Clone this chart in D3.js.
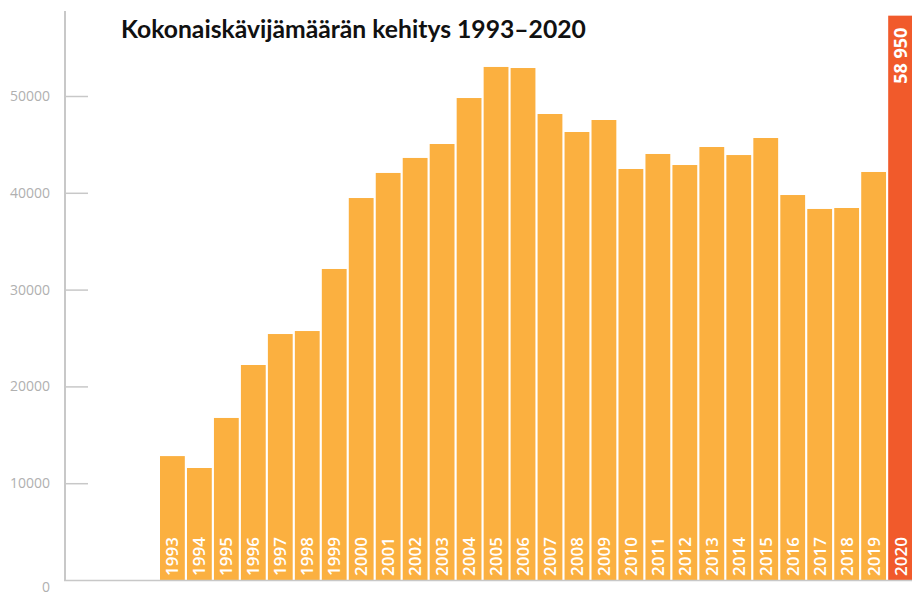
<!DOCTYPE html>
<html lang="fi">
<head>
    <meta charset="UTF-8">
    <title>Kokonaiskävijämäärän kehitys 1993–2020</title>
    <script src="https://cdn.jsdelivr.net/npm/d3@7"></script>
    <style>
        body { margin: 0; background: #fff; }
        .otsikko {
            font-family: 'Lato', sans-serif;
            font-weight: 700;
            font-size: 24.7px;
            fill: #111;
        }
        .axis text {
            font-family: 'Open Sans', sans-serif;
            font-size: 14px;
            fill: #b0b0b0;
        }
        .axis line, .axis path { stroke: #c8c8c8; }
        .vuosi {
            font-family: 'Open Sans', sans-serif;
            font-weight: 600;
            font-size: 17px;
            fill: #fff;
        }
        .arvo {
            font-family: 'Open Sans', sans-serif;
            font-weight: 700;
            font-size: 18px;
            fill: #fff;
        }
    </style>
</head>
<body>
<div id="grafico"></div>
<script>
var w = 912, h = 597;

// vuodet ja kävijämäärät (luettu kuvasta)
var vuodet = [1993, 1994, 1995, 1996, 1997, 1998, 1999, 2000, 2001, 2002,
              2003, 2004, 2005, 2006, 2007, 2008, 2009, 2010, 2011, 2012,
              2013, 2014, 2015, 2016, 2017, 2018, 2019, 2020];
var kavijat = [12800, 11570, 16740, 22210, 25410, 25720, 32130, 39460, 42050, 43600,
               45040, 49790, 53000, 52890, 48140, 46280, 47520, 42460, 44010, 42870,
               44730, 43900, 45660, 39770, 38330, 38430, 42150, 58300];
var yTicks = [0, 10000, 20000, 30000, 40000, 50000];
var korostus = 2020;
var korostusTeksti = "58 950";

var xScale = d3.scaleBand()
    .domain(vuodet)
    .range([160, 913])
    .paddingInner(0.08);

var yScale = d3.scaleLinear()
    .domain([0, 50000])
    .range([580, 96]);

var svg = d3.select("#grafico")
    .append("svg")
    .attr("width", w)
    .attr("height", h);

// pylväät
svg.selectAll("rect.bar")
    .data(vuodet)
    .enter()
    .append("rect")
    .attr("class", "bar")
    .attr("x", function(d){ return xScale(d); })
    .attr("width", xScale.bandwidth())
    .attr("y", function(d, i){ return yScale(kavijat[i]); })
    .attr("height", function(d, i){ return yScale(0) - yScale(kavijat[i]); })
    .attr("fill", function(d){ return d === korostus ? "#F15A2B" : "#FBB040"; });

// vuosiluvut pylväiden sisään
svg.selectAll("text.vuosi")
    .data(vuodet)
    .enter()
    .append("text")
    .attr("class", "vuosi")
    .attr("transform", function(d){
        return "translate(" + (xScale(d) + xScale.bandwidth() / 2 + 6) + "," + (yScale(0) - 4) + ") rotate(-90)";
    })
    .text(function(d){ return d; });

// korostetun pylvään arvo
var ki = vuodet.indexOf(korostus);
svg.append("text")
    .attr("class", "arvo")
    .attr("text-anchor", "end")
    .attr("transform", "translate(" + (xScale(korostus) + xScale.bandwidth() / 2 + 6.5) + "," + (yScale(kavijat[ki]) + 12) + ") rotate(-90)")
    .text(korostusTeksti);

// y-akseli
var yAxis = d3.axisLeft(yScale)
    .tickValues(yTicks)
    .tickSize(0)
    .tickPadding(15)
    .tickFormat(d3.format("d"));

var ejeY = svg.append("g")
    .attr("class", "axis")
    .attr("transform", "translate(65,0)")
    .call(yAxis);
ejeY.select(".domain").remove();
ejeY.selectAll(".tick")
    .filter(function(d){ return d === 0; })
    .select("text")
    .attr("dy", "0.85em");
ejeY.selectAll(".tick")
    .filter(function(d){ return d !== 0; })
    .append("line")
    .attr("x1", 1).attr("x2", 23)
    .attr("stroke", "#c8c8c8")
    .attr("stroke-width", 1.5);

svg.append("line")
    .attr("x1", 65).attr("x2", 65)
    .attr("y1", 11).attr("y2", yScale(0) + 1)
    .attr("stroke", "#c8c8c8")
    .attr("stroke-width", 2);

svg.append("line")
    .attr("x1", 64).attr("x2", w)
    .attr("y1", yScale(0) + 0.5).attr("y2", yScale(0) + 0.5)
    .attr("stroke", "#c8c8c8")
    .attr("stroke-width", 1.5);

// otsikko
svg.append("text")
    .attr("class", "otsikko")
    .attr("x", 121)
    .attr("y", 38)
    .text("Kokonaiskävijämäärän kehitys 1993–2020");
</script>
</body>
</html>
